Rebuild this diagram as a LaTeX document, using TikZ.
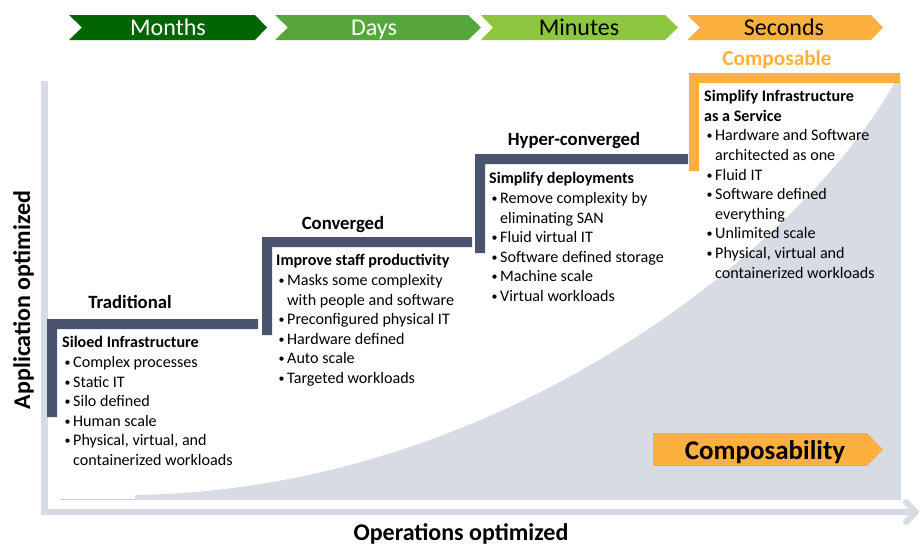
\documentclass[tikz,border=0pt]{standalone}
\usepackage{fontspec}
\setmainfont{Carlito}
\definecolor{monthsgreen}{RGB}{0,100,0}
\definecolor{daysgreen}{RGB}{86,167,59}
\definecolor{minutesgreen}{RGB}{141,198,63}
\definecolor{orangec}{RGB}{251,176,64}
\definecolor{slate}{RGB}{74,84,110}
\definecolor{axisgray}{RGB}{214,219,228}
\definecolor{thingray}{RGB}{200,206,216}
\newcommand{\bitem}[1]{\makebox[11pt][l]{\hspace{2.5pt}\raisebox{1pt}{\fontsize{12}{12}\selectfont\textbullet}}#1}
\newcommand{\bcont}[1]{\hspace*{11pt}#1}
\tikzset{
  toplabel/.style={anchor=base, inner sep=0pt, font=\fontsize{24}{28}\selectfont},
  heading/.style={anchor=base, inner sep=0pt, font=\bfseries\fontsize{18.7}{22}\selectfont},
  block/.style={anchor=base west, inner sep=0pt, align=left, font=\fontsize{16.1}{19.6}\selectfont},
  axislabel/.style={anchor=base, inner sep=0pt, font=\bfseries\fontsize{24}{28}\selectfont},
  axisline/.style={draw=axisgray, line width=6.5pt, line cap=butt},
}
\begin{document}
\begin{tikzpicture}[x=1pt,y=-1pt]
\useasboundingbox (0,0) rectangle (920,546);

% gray growth region
\fill[axisgray] (135,495) .. controls (500,490) and (800,250) .. (895,82) -- (901,82) -- (901,500) -- (135,500) -- cycle;
\draw[thingray, line width=0.8pt] (61,499) -- (135,499);

% axes
\draw[axisline] (44.5,81) -- (44.5,515);
\draw[axisline] (41,512) -- (915,512);
\draw[draw=axisgray, line width=6pt, line cap=round, line join=round] (906,502) -- (916,512) -- (906,522);

% top time chevrons
\fill[monthsgreen] (69,15) -- (255,15) -- (267,27.5) -- (255,40) -- (69,40) -- (82,27.5) -- cycle;
\fill[daysgreen] (275,15) -- (468,15) -- (481,27.5) -- (468,40) -- (275,40) -- (288,27.5) -- cycle;
\fill[minutesgreen] (481,15) -- (665,15) -- (678,27.5) -- (665,40) -- (481,40) -- (493,27.5) -- cycle;
\fill[orangec] (687,15) -- (871,15) -- (883,27.5) -- (871,40) -- (687,40) -- (700,27.5) -- cycle;
\node[toplabel, text=white] (months) at (168,35.7) {Months};
\node[toplabel, text=white] (days) at (374,35.7) {Days};
\node[toplabel] (minutes) at (579,35.7) {Minutes};
\node[toplabel] (seconds) at (784,35.7) {Seconds};

% step brackets
\fill[slate] (47,319) -- (258,319) -- (258,329) -- (57,329) -- (57,417) -- (47,417) -- cycle;
\fill[slate] (262,237) -- (472,237) -- (472,247) -- (272,247) -- (272,335) -- (262,335) -- cycle;
\fill[slate] (475,154) -- (688,154) -- (688,164) -- (485,164) -- (485,253) -- (475,253) -- cycle;
\fill[orangec] (689,73) -- (900,73) -- (900,83) -- (699,83) -- (699,171) -- (689,171) -- cycle;

% headings
\node[heading] (trad) at (130,308.3) {Traditional};
\node[heading] (conv) at (343,229.3) {Converged};
\node[heading] (hyper) at (574,145) {Hyper-converged};
\node[heading, text=orangec, font=\bfseries\fontsize{21.3}{24}\selectfont] (compos) at (777,65) {Composable};

% text blocks (anchored at the baseline of their last line)
\node[block] (tradtxt) at (62,465.5) {\textbf{Siloed Infrastructure}\\
\bitem{Complex processes}\\
\bitem{Static IT}\\
\bitem{Silo defined}\\
\bitem{Human scale}\\
\bitem{Physical, virtual, and}\\
\bcont{containerized workloads}};

\node[block] (convtxt) at (276,383.5) {\textbf{Improve staff productivity}\\
\bitem{Masks some complexity}\\
\bcont{with people and software}\\
\bitem{Preconfigured physical IT}\\
\bitem{Hardware defined}\\
\bitem{Auto scale}\\
\bitem{Targeted workloads}};

\node[block] (hypertxt) at (489,301.5) {\textbf{Simplify deployments}\\
\bitem{Remove complexity by}\\
\bcont{eliminating SAN}\\
\bitem{Fluid virtual IT}\\
\bitem{Software defined storage}\\
\bitem{Machine scale}\\
\bitem{Virtual workloads}};

\node[block] (compostxt) at (704,278) {\textbf{Simplify Infrastructure}\\
\textbf{as a Service}\\
\bitem{Hardware and Software}\\
\bcont{architected as one}\\
\bitem{Fluid IT}\\
\bitem{Software defined}\\
\bcont{everything}\\
\bitem{Unlimited scale}\\
\bitem{Physical, virtual and}\\
\bcont{containerized workloads}};

% composability arrow
\fill[orangec] (653,433) -- (867,433) -- (883,449.5) -- (867,466) -- (653,466) -- cycle;
\node[axislabel, font=\bfseries\fontsize{27}{30}\selectfont] (composability) at (765,459.5) {Composability};

% axis labels
\node[axislabel, rotate=90] (yl) at (30,300) {Application optimized};
\node[axislabel] (xl) at (461,540) {Operations optimized};
\end{tikzpicture}
\end{document}
